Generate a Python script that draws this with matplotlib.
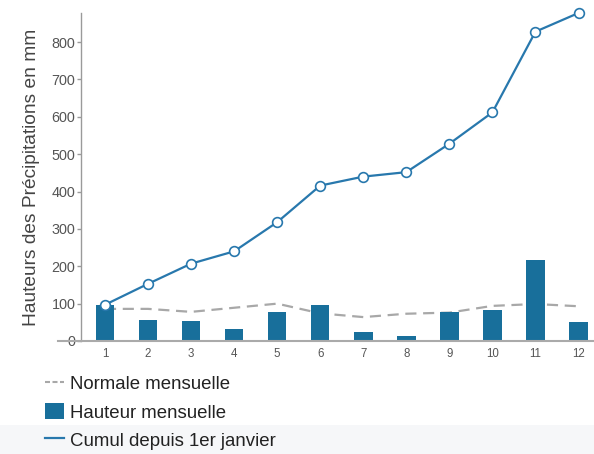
import matplotlib.pyplot as plt
from matplotlib.lines import Line2D
from matplotlib.patches import Patch, Rectangle

plt.rcParams["font.family"] = ["Liberation Sans", "DejaVu Sans"]

# monthly values (mm)
months = [1, 2, 3, 4, 5, 6, 7, 8, 9, 10, 11, 12]
monthly = [96, 56, 53, 32, 78, 97, 23, 13, 77, 84, 216, 52]
normal = [86, 86, 78, 89, 100, 74, 64, 73, 76, 94, 99, 93]
cumul = [97, 153, 207, 240, 318, 416, 440, 452, 528, 612, 828, 878]

barColor = "#186f9b"
lineColor = "#2878ad"
grey = "#a8a8a8"

fig = plt.figure(figsize=(5.94, 4.54), dpi=100)
fig.patches.append(
    Rectangle((0, 0), 1, 29 / 454, transform=fig.transFigure,
              facecolor="#f6f7f9", edgecolor="none", zorder=0)
)
ax = fig.add_axes([81 / 594, 1 - 341 / 454, 513 / 594, 328 / 454])

ax.plot(months, normal, color=grey, lw=1.6, dashes=[5, 3], zorder=1)
ax.bar(months, monthly, width=0.43, color=barColor, zorder=2)
ax.plot(months, cumul, color=lineColor, lw=1.6, marker="o", markersize=7,
        markerfacecolor="white", markeredgecolor=lineColor,
        markeredgewidth=1.2, zorder=3, clip_on=False)

ax.set_xlim(0.443, 12.36)
ax.set_ylim(0, 878)
ax.set_xticks(months)
ax.set_yticks(range(0, 900, 100))

for s in ["top", "right", "bottom"]:
    ax.spines[s].set_visible(False)
ax.spines["left"].set_color("#9a9a9a")
ax.spines["left"].set_linewidth(1.0)

# x axis line runs a bit left of the y axis
ax.plot([-0.045, 1], [0, 0], transform=ax.get_yaxis_transform(),
        color="#aaaaaa", lw=1.5, clip_on=False, zorder=4)

ax.tick_params(axis="y", length=3, width=1, color="#9a9a9a", pad=1,
               labelsize=10.4, labelcolor="#555555")
ax.tick_params(axis="x", length=0, pad=5, labelsize=8.3, labelcolor="#555555")

ax.set_ylabel("Hauteurs des Précipitations en mm", fontsize=13.8,
              color="#444444", labelpad=8)

handles = [
    Line2D([], [], color=grey, lw=1.5, ls=(0, (2.4, 1.2))),
    Patch(facecolor=barColor),
    Line2D([], [], color=lineColor, lw=1.6),
]
labels = ["Normale mensuelle", "Hauteur mensuelle", "Cumul depuis 1er janvier"]
fig.legend(handles, labels, loc="upper left",
           bbox_to_anchor=(45 / 594, 1 - 375 / 454), frameon=False,
           fontsize=13.4, handlelength=1.0, handleheight=0.95,
           handletextpad=0.35, labelspacing=0.52, borderpad=0,
           borderaxespad=0, labelcolor="#222222")

fig.savefig("out.png", dpi=100)
